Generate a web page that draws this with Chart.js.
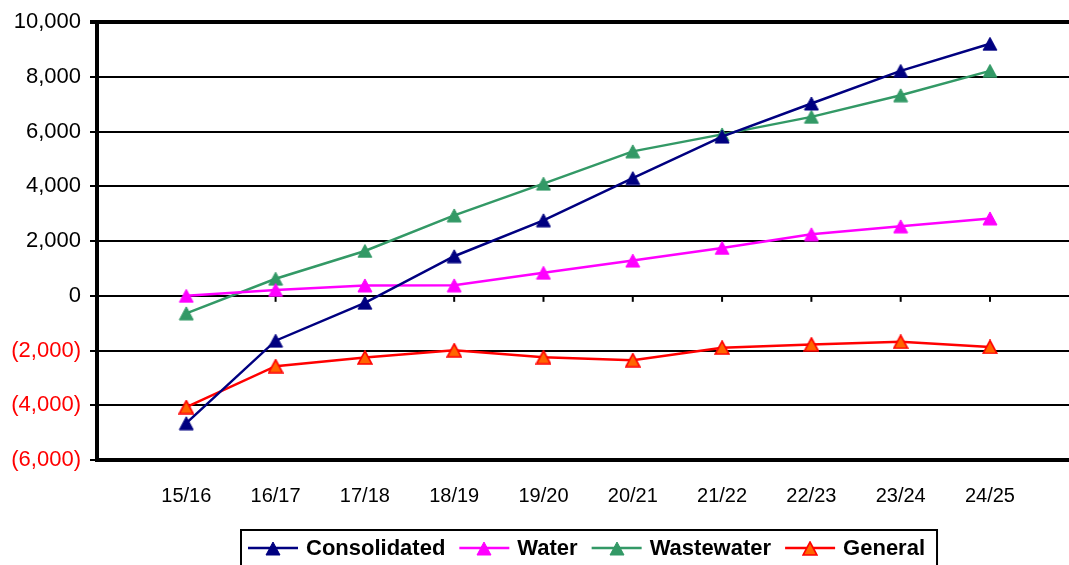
<!DOCTYPE html>
<html><head><meta charset="utf-8">
<script src="https://cdn.jsdelivr.net/npm/chart.js@4"></script>
<style>html,body{margin:0;padding:0;background:#fff;overflow:hidden}#wrap{width:1069px;height:565px;position:relative}</style>
</head><body><div id="wrap"><canvas id="c" width="1069" height="565"></canvas></div>
<script>
const categories = ['15/16','16/17','17/18','18/19','19/20','20/21','21/22','22/23','23/24','24/25'];
const consolidated = [-4655, -1640, -255, 1447, 2760, 4303, 5820, 7030, 8220, 9210];
const water = [0, 215, 380, 383, 843, 1288, 1750, 2250, 2540, 2830];
const wastewater = [-640, 625, 1640, 2940, 4100, 5280, 5900, 6540, 7330, 8220];
const general = [-4065, -2570, -2255, -1990, -2242, -2350, -1895, -1775, -1680, -1870];
const yMin = -6000, yMax = 10000, yStep = 2000;

const FONT = "'Liberation Sans', Arial, sans-serif";
function fmt(v){ const s = Math.abs(v).toLocaleString('en-US'); return v < 0 ? '(' + s + ')' : s; }
const pts = arr => arr.map((v, i) => ({x: i, y: v}));

function makeTri(fill, stroke, bw){
  const w = 16, h = 15, c = document.createElement('canvas'); c.width = w; c.height = h;
  const g = c.getContext('2d');
  g.beginPath(); g.moveTo(w / 2, 1); g.lineTo(w - 1, h - 1); g.lineTo(1, h - 1); g.closePath();
  g.fillStyle = fill; g.fill(); g.lineWidth = bw; g.strokeStyle = stroke; g.lineJoin = 'miter'; g.stroke();
  return c;
}

function ds(label, arr, color, fill){
  const tri = makeTri(fill || color, color, fill ? 1.6 : 1);
  return {label, data: pts(arr), borderColor: color, backgroundColor: fill || color,
    pointStyle: tri, pointRadius: 8, pointHoverRadius: 8, borderWidth: 2.5, tension: 0, fill: false};
}

const zeroTicks = {id:'zeroTicks', beforeDatasetsDraw(chart){
  const {ctx, scales:{x, y}} = chart; const y0 = y.getPixelForValue(0);
  ctx.save(); ctx.strokeStyle = '#000'; ctx.lineWidth = 2;
  categories.forEach((c, i) => { const px = x.getPixelForValue(i); ctx.beginPath(); ctx.moveTo(px, y0); ctx.lineTo(px, y0 + 6); ctx.stroke(); });
  ctx.restore();
}};

const legendBox = {id:'legendBox', afterDraw(chart){
  const ctx = chart.ctx; ctx.save();
  ctx.font = 'bold 22px ' + FONT;
  const lineLen = 50, gapLT = 8, gapItem = 14, padL = 7, padR = 12;
  const items = chart.data.datasets.map(d => ({d, w: ctx.measureText(d.label).width}));
  const total = padL + items.reduce((s, it) => s + lineLen + gapLT + it.w, 0) + gapItem * (items.length - 1) + padR;
  const cx = (chart.chartArea.left + chart.chartArea.right) / 2 + 6;
  const x0 = Math.round(cx - total / 2), top = 530, h = 45, cy = 548;
  ctx.lineWidth = 2; ctx.strokeStyle = '#000'; ctx.strokeRect(x0, top, total, h);
  let x = x0 + padL;
  items.forEach(it => {
    const d = it.d;
    ctx.strokeStyle = d.borderColor; ctx.lineWidth = 2.5;
    ctx.beginPath(); ctx.moveTo(x, cy); ctx.lineTo(x + lineLen, cy); ctx.stroke();
    const img = d.pointStyle;
    ctx.drawImage(img, Math.round(x + lineLen / 2 - img.width / 2), Math.round(cy - img.height / 2));
    ctx.fillStyle = '#000'; ctx.textBaseline = 'middle'; ctx.textAlign = 'left';
    ctx.fillText(d.label, x + lineLen + gapLT, cy + 1);
    x += lineLen + gapLT + it.w + gapItem;
  });
  ctx.restore();
}};

new Chart(document.getElementById('c'), {
  type: 'line',
  data: {datasets: [
    ds('Consolidated', consolidated, '#000080'),
    ds('Water', water, '#FF00FF'),
    ds('Wastewater', wastewater, '#339966'),
    ds('General', general, '#FF0000', '#FF6600')
  ]},
  options: {
    responsive: false, animation: false, devicePixelRatio: 1,
    layout: {autoPadding: false, padding: {top: 18, right: 0, left: 0, bottom: 0}},
    plugins: {legend: {display: false}, tooltip: {enabled: false}},
    scales: {
      x: {type: 'linear', min: -1, max: 9.885,
        grid: {display: false}, border: {display: true, color: '#000', width: 4},
        ticks: {stepSize: 1, includeBounds: false, autoSkip: false, maxRotation: 0, padding: 16, color: '#000',
          font: {family: FONT, size: 20},
          callback: v => (Number.isInteger(v) && v >= 0 && v < categories.length) ? categories[v] : ''},
        afterFit: s => { s.height = 105; s.paddingRight = 0; s.paddingLeft = 0; }
      },
      y: {min: yMin, max: yMax,
        grid: {color: '#000', lineWidth: c => (c.tick && c.tick.value === yMax) ? 4 : 2, tickLength: 7, drawTicks: true},
        border: {display: true, color: '#000', width: 4},
        ticks: {stepSize: yStep, padding: 9, font: {family: FONT, size: 22},
          color: c => (c.tick && c.tick.value < 0) ? '#FF0000' : '#000', callback: v => fmt(v)},
        afterFit: s => { s.width = 97; }
      }
    }
  },
  plugins: [zeroTicks, legendBox]
});
</script></body></html>
